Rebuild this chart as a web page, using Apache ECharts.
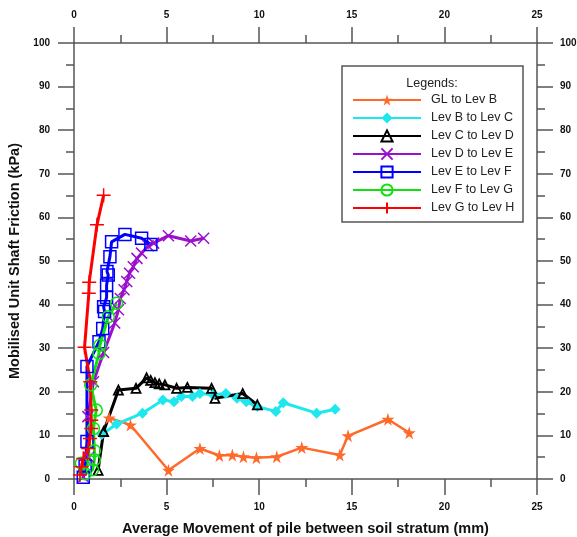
<!DOCTYPE html>
<html>
<head>
<meta charset="utf-8">
<script src="https://cdn.jsdelivr.net/npm/echarts@6/dist/echarts.min.js"></script>
<style>
  html, body { margin: 0; padding: 0; background: #fff; }
  #chart { width: 577px; height: 537px; }
</style>
</head>
<body>
<div id="chart"></div>
<script>
// [movement (mm), friction (kPa)] per soil stratum pair
const seriesNames = ['GL to Lev B', 'Lev B to Lev C', 'Lev C to Lev D', 'Lev D to Lev E', 'Lev E to Lev F', 'Lev F to Lev G', 'Lev G to Lev H']
const glToB = [[1.9, 14.0], [3.05, 12.4], [5.1, 2.0], [6.8, 7.0], [7.85, 5.4], [8.55, 5.5], [9.15, 5.1], [9.85, 4.9], [10.95, 5.1], [12.3, 7.2], [14.35, 5.5], [14.8, 9.9], [16.95, 13.7], [18.1, 10.6]]
const bToC = [[1.5, 10.2], [2.3, 12.6], [3.7, 15.1], [4.8, 18.1], [5.4, 17.7], [5.8, 18.9], [6.4, 18.9], [6.8, 19.6], [7.5, 19.3], [8.2, 19.6], [8.8, 18.5], [9.3, 17.7], [9.9, 16.6], [10.9, 15.5], [11.3, 17.5], [13.1, 15.1], [14.1, 16.0]]
const cToD = [[1.3, 2.0], [1.6, 10.9], [2.4, 20.4], [3.35, 20.8], [3.92, 23.2], [4.14, 22.6], [4.37, 22.1], [4.6, 21.8], [4.91, 21.6], [5.54, 20.8], [6.12, 21.0], [7.43, 20.8], [7.61, 18.5], [9.11, 19.6], [9.9, 17.0]]
const dToE = [[0.5, 0.5], [0.8, 5.0], [0.75, 14.3], [1.05, 22.3], [1.6, 29.0], [2.2, 35.8], [2.4, 38.8], [2.5, 41.4], [2.7, 43.4], [2.85, 45.3], [3.0, 47.2], [3.2, 48.7], [3.4, 50.6], [3.65, 51.8], [4.0, 53.5], [4.3, 54.1], [5.1, 55.8], [6.3, 54.6], [7.0, 55.2]]
const eToF = [[0.5, 0.4], [0.6, 3.0], [0.7, 8.6], [0.7, 25.8], [1.35, 31.5], [1.55, 34.5], [1.65, 38.4], [1.6, 39.5], [1.76, 41.6], [1.76, 44.5], [1.85, 46.8], [1.78, 47.6], [1.94, 51.0], [2.03, 54.4], [2.75, 56.1], [3.65, 55.2], [4.15, 53.8]]
const fToG = [[0.4, 3.6], [0.6, 1.2], [1.0, 2.1], [1.1, 4.4], [1.1, 6.5], [1.05, 11.6], [1.2, 15.8], [0.9, 21.6], [1.35, 28.8], [1.4, 30.7], [1.85, 37.2], [2.3, 40.3]]
const gToH = [[0.32, 0.9], [0.41, 2.8], [0.5, 4.7], [0.77, 7.0], [0.86, 9.3], [0.93, 11.6], [0.93, 13.5], [0.93, 15.8], [0.88, 22.3], [0.57, 30.2], [0.8, 42.6], [0.82, 45.1], [1.24, 58.3], [1.6, 65.1]]
const xTicks = { min: 0, max: 25, interval: 5 }
const yTicks = { min: 0, max: 100, interval: 10 }

const STAR = 'path://M50,0L61,35L98,35L68,57L79,91L50,70L21,91L32,57L2,35L39,35Z'
const CROSS_X = 'path://M0,0L10,10M10,0L0,10'
const PLUS = 'path://M5,0L5,10M0,5L10,5'

const chart = echarts.init(document.getElementById('chart'))

const axisColor = '#555'
const labelStyle = { color: '#111', fontSize: 10, fontWeight: 'bold', fontFamily: 'Liberation Sans, Arial', showMinLabel: true, showMaxLabel: true }
const makeAxis = (t, position, extra) => Object.assign({
  type: 'value', position, min: t.min, max: t.max, interval: t.interval,
  axisLine: { show: true, onZero: false, lineStyle: { color: axisColor, width: 1.5 } },
  axisTick: { show: true, inside: false, length: 16, lineStyle: { color: axisColor, width: 1.5 } },
  minorTick: { show: true, splitNumber: 2, length: 8, lineStyle: { color: axisColor, width: 1.5 } },
  axisLabel: Object.assign({ margin: 23 }, labelStyle),
  splitLine: { show: false }
}, extra)

const titleStyle = { color: '#111', fontSize: 14.5, fontWeight: 'bold', fontFamily: 'Liberation Sans, Arial' }

const mk = (name, data, color, symbol, size, filled, lw, bw) => ({
  name, type: 'line', data, xAxisIndex: 0, yAxisIndex: 0,
  symbol, symbolSize: size,
  lineStyle: { color, width: lw || 3 },
  itemStyle: filled ? { color } : { color: 'rgba(0,0,0,0)', borderColor: color, borderWidth: bw || 1.5 },
  emphasis: { disabled: true },
  animation: false
})

chart.setOption({
  animation: false,
  grid: { left: 74, right: 40, top: 43, bottom: 58, containLabel: false, outerBoundsMode: 'none' },
  xAxis: [
    makeAxis(xTicks, 'bottom', { name: 'Average Movement of pile between soil stratum (mm)', nameLocation: 'middle', nameGap: 42, nameTextStyle: titleStyle }),
    makeAxis(xTicks, 'top', {})
  ],
  yAxis: [
    makeAxis(yTicks, 'left', { name: 'Mobilised Unit Shaft Friction (kPa)', nameLocation: 'middle', nameGap: 47, nameTextStyle: titleStyle, axisLabel: Object.assign({ margin: 24 }, labelStyle) }),
    makeAxis(yTicks, 'right', {})
  ],
  legend: {
    orient: 'vertical', left: 352, top: 93, padding: 0,
    itemWidth: 68, itemHeight: 14, itemGap: 4,
    selectedMode: false,
    textStyle: { color: '#222', fontSize: 12.5, fontFamily: 'Liberation Sans, Arial', padding: [0, 0, 0, 5], lineHeight: 14 },
    data: seriesNames
  },
  graphic: [
    { type: 'rect', shape: { x: 342, y: 66, width: 181, height: 156 }, style: { fill: 'none', stroke: '#555', lineWidth: 1.5 }, z: 100 },
    { type: 'text', x: 432, y: 84, style: { text: 'Legends:', fill: '#222', font: '12.5px Liberation Sans, Arial', align: 'center', verticalAlign: 'middle' }, z: 100 }
  ],
  series: [
    mk(seriesNames[0], glToB, '#ff6a2a', STAR, 13, true, 2.5),
    mk(seriesNames[1], bToC, '#1ee8ee', 'diamond', 11, true),
    mk(seriesNames[2], cToD, '#000000', 'triangle', 9, false, 3, 1.8),
    mk(seriesNames[3], dToE, '#9a10cc', CROSS_X, 11, false),
    mk(seriesNames[4], eToF, '#0000ff', 'rect', 12, false),
    mk(seriesNames[5], fToG, '#10e010', 'circle', 12, false),
    mk(seriesNames[6], gToH, '#ff0000', PLUS, 14, false)
  ]
})
</script>
</body>
</html>
